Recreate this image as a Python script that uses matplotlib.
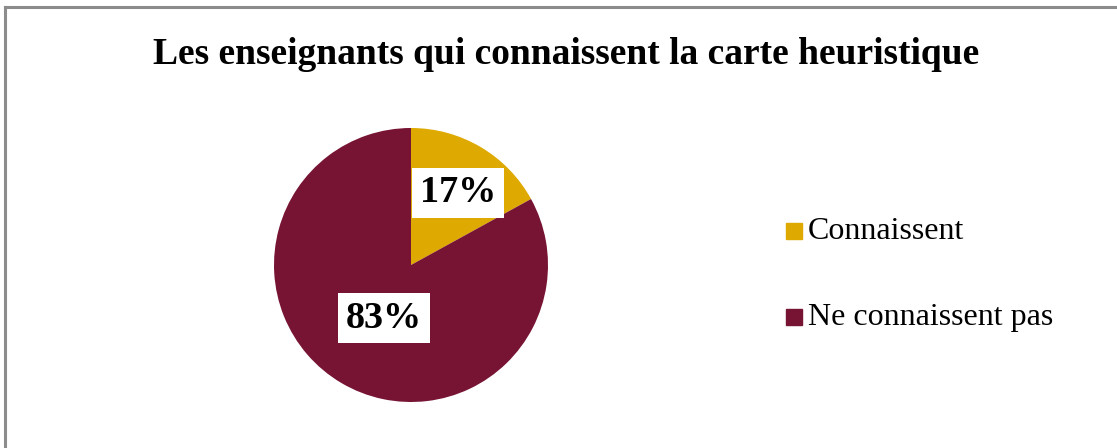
import matplotlib
matplotlib.use("Agg")
import matplotlib.pyplot as plt
from matplotlib.lines import Line2D

title = "Les enseignants qui connaissent la carte heuristique"
labels = ["Connaissent", "Ne connaissent pas"]
values = [17, 83]
colors = ["#DEA900", "#771333"]

W, H = 1117, 448
fig = plt.figure(figsize=(W / 100, H / 100), dpi=100)
plt.rcParams["font.family"] = ["Liberation Serif", "DejaVu Serif"]

# frame: only top and left edges visible in the reference
fig.add_artist(Line2D([4.5 / W, 4.5 / W], [0, 1 - 7.5 / H], color="#8c8c8c", lw=2.2,
                      transform=fig.transFigure))
fig.add_artist(Line2D([4.5 / W, 1], [1 - 7.5 / H, 1 - 7.5 / H], color="#8c8c8c", lw=2.2,
                      transform=fig.transFigure))

fig.text(566 / W, 1 - 54 / H, title, ha="center", va="center",
         fontsize=27, fontweight="bold")

# pie centred at (411, 265), radius ~137 px
r = 137
ax = fig.add_axes([(411 - r) / W, 1 - (265 + r) / H, 2 * r / W, 2 * r / H])
wedges, _ = ax.pie(values, colors=colors, startangle=90, counterclock=False,
                   wedgeprops=dict(linewidth=0))
ax.set_aspect("auto")
ax.set_xlim(-1, 1); ax.set_ylim(-1, 1)
ax.axis("off")

label_pos = [(458, 193), (384, 318)]
for v, (px, py) in zip(values, label_pos):
    fig.text(px / W, 1 - py / H, f"{v}%", ha="center", va="center",
             fontsize=27.5, fontweight="bold",
             bbox=dict(boxstyle="square,pad=0.2", fc="white", ec="none"))

# legend
leg_y = [231, 317]
for lab, c, y in zip(labels, colors, leg_y):
    fig.patches.append(plt.Rectangle((786 / W, 1 - (y + 8) / H), 16 / W, 16 / H,
                                     color=c, transform=fig.transFigure))
    fig.text(808 / W, 1 - y / H, lab, ha="left", va="center", fontsize=23)

fig.savefig("out.png", dpi=100, facecolor="white")
